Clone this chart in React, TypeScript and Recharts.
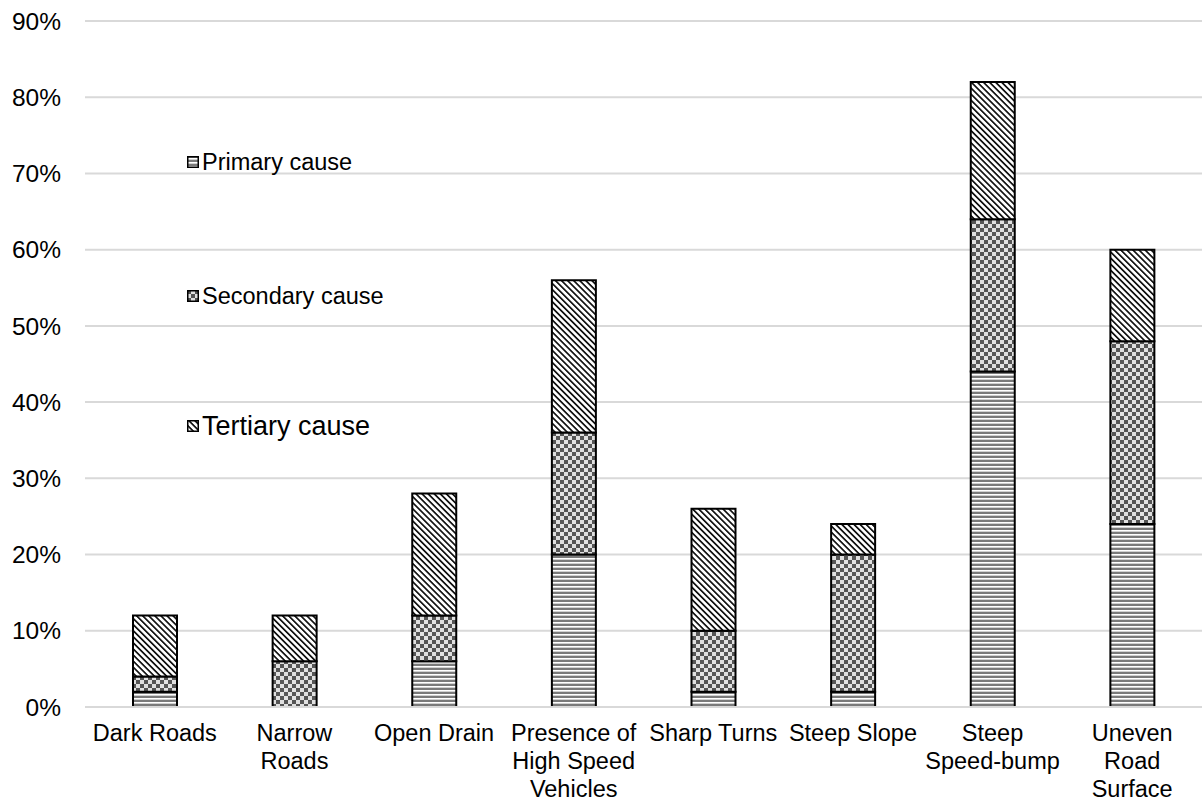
import { BarChart, Bar, XAxis, YAxis, CartesianGrid, Legend } from 'recharts';

const categories = [
  'Dark Roads',
  'Narrow Roads',
  'Open Drain',
  'Presence of High Speed Vehicles',
  'Sharp Turns',
  'Steep Slope',
  'Steep Speed-bump',
  'Uneven Road Surface',
];

// how the category labels wrap under the axis
const tickLines = [
  ['Dark Roads'],
  ['Narrow', 'Roads'],
  ['Open Drain'],
  ['Presence of', 'High Speed', 'Vehicles'],
  ['Sharp Turns'],
  ['Steep Slope'],
  ['Steep', 'Speed-bump'],
  ['Uneven', 'Road', 'Surface'],
];

const primary = [2, 0, 6, 20, 2, 2, 44, 24];
const secondary = [2, 6, 6, 16, 8, 18, 20, 24];
const tertiary = [8, 6, 16, 20, 16, 4, 18, 12];

const yTicks = [0, 10, 20, 30, 40, 50, 60, 70, 80, 90];

const data = categories.map((name, i) => ({
  name,
  primary: primary[i],
  secondary: secondary[i],
  tertiary: tertiary[i],
}));

const FONT = '"Liberation Sans", Arial, sans-serif';

const seriesPattern: Record<string, string> = {
  'Primary cause': 'hlines',
  'Secondary cause': 'checks',
  'Tertiary cause': 'diag',
};

// legend labels are not the same size in the original
const legendFont: Record<string, number> = {
  'Primary cause': 23.5,
  'Secondary cause': 23.5,
  'Tertiary cause': 27,
};
const legendTop = [2, 136, 266];

function Patterns({ suffix = '' }: { suffix?: string }) {
  return (
    <defs>
      <pattern id={`hlines${suffix}`} width="4" height="4" patternUnits="userSpaceOnUse">
        <rect width="4" height="4" fill="#fff" />
        <rect y="0" width="4" height="2" fill="#7a7a7a" />
        <rect y="3" width="4" height="1" fill="#d0d0d0" />
      </pattern>
      <pattern id={`checks${suffix}`} width="8" height="8" patternUnits="userSpaceOnUse">
        <rect width="8" height="8" fill="#e0e0e0" />
        <rect x="0" y="0" width="4" height="4" fill="#555" />
        <rect x="4" y="4" width="4" height="4" fill="#555" />
      </pattern>
      <pattern
        id={`diag${suffix}`}
        width="4.3"
        height="4.3"
        patternUnits="userSpaceOnUse"
        patternTransform="rotate(-45)"
      >
        <rect width="4.3" height="4.3" fill="#fff" />
        <rect x="0" width="1.7" height="4.3" fill="#111" />
      </pattern>
    </defs>
  );
}

const CategoryTick = (props: any) => {
  const { x, y, payload } = props;
  const lines = tickLines[payload.index] ?? [payload.value];
  return (
    <text x={x} y={y} textAnchor="middle" fontSize={23.5} fontFamily={FONT} fill="#000">
      {lines.map((line, i) => (
        <tspan key={i} x={x} dy={i === 0 ? 34 : 28}>
          {line}
        </tspan>
      ))}
    </text>
  );
};

const renderLegend = (props: any) => {
  const { payload = [] } = props;
  return (
    <div style={{ position: 'relative', width: '100%', height: '100%', fontFamily: FONT }}>
      {payload.map((entry: any, i: number) => {
        const pat = seriesPattern[entry.value];
        return (
          <div
            key={entry.value}
            style={{
              position: 'absolute',
              left: 0,
              top: legendTop[i],
              height: 30,
              display: 'flex',
              alignItems: 'center',
              whiteSpace: 'nowrap',
            }}
          >
            <svg width={12} height={12} style={{ marginRight: 3 }}>
              <Patterns suffix={`-lg${i}`} />
              <rect x={0.75} y={0.75} width={10.5} height={10.5} fill={`url(#${pat}-lg${i})`} stroke="#000" strokeWidth={1.5} />
            </svg>
            <span style={{ fontSize: legendFont[entry.value], color: '#000' }}>{entry.value}</span>
          </div>
        );
      })}
    </div>
  );
};

export default function App() {
  return (
    <div style={{ position: 'absolute', left: 0, top: 0, width: 1202, height: 803, background: '#fff' }}>
      <BarChart
        width={1202}
        height={803}
        data={data}
        margin={{ top: 21, right: 0, left: 0, bottom: 0 }}
        barSize={44}
      >
        <Patterns />
        <CartesianGrid vertical={false} stroke="#d9d9d9" strokeWidth={2} />
        <XAxis
          dataKey="name"
          height={96}
          interval={0}
          tick={<CategoryTick />}
          tickLine={false}
          tickSize={0}
          tickMargin={0}
          axisLine={{ stroke: '#d9d9d9', strokeWidth: 2 }}
        />
        <YAxis
          width={85}
          domain={[0, 90]}
          ticks={yTicks}
          tickFormatter={(v: number) => `${v}%`}
          axisLine={false}
          tickLine={false}
          tickSize={0}
          tickMargin={24}
          tick={{ fontSize: 24.5, fontFamily: FONT, fill: '#000' }}
        />
        <Legend
          layout="horizontal"
          verticalAlign="middle"
          align="center"
          content={renderLegend}
          wrapperStyle={{ left: 187, top: 145, width: 260, height: 300 }}
        />
        <Bar
          dataKey="primary"
          name="Primary cause"
          stackId="a"
          fill="url(#hlines)"
          stroke="#000"
          strokeWidth={2}
          isAnimationActive={false}
        />
        <Bar
          dataKey="secondary"
          name="Secondary cause"
          stackId="a"
          fill="url(#checks)"
          stroke="#000"
          strokeWidth={2}
          isAnimationActive={false}
        />
        <Bar
          dataKey="tertiary"
          name="Tertiary cause"
          stackId="a"
          fill="url(#diag)"
          stroke="#000"
          strokeWidth={2}
          isAnimationActive={false}
        />
      </BarChart>
    </div>
  );
}
